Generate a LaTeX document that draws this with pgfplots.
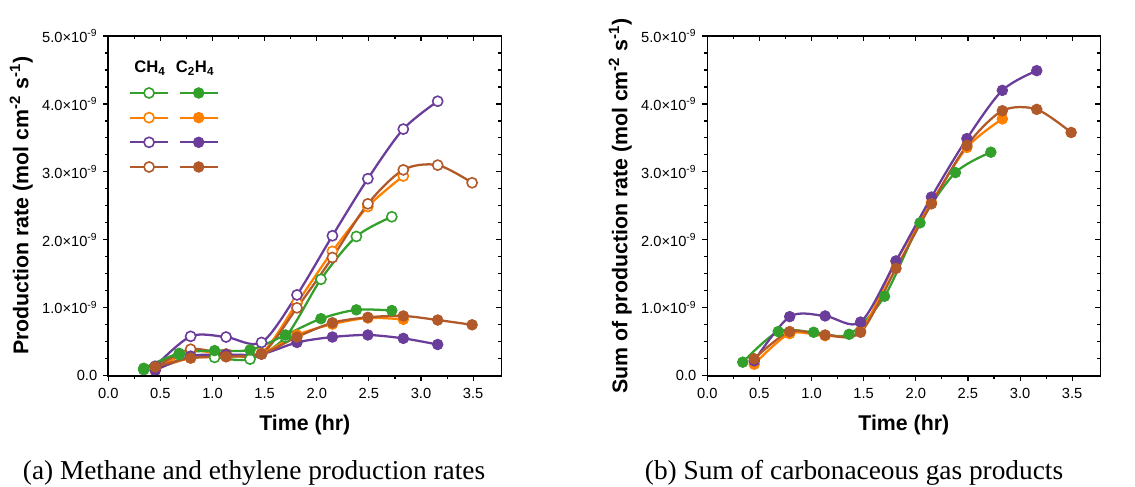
\documentclass[border=0pt]{standalone}
\usepackage{pgfplots}
\pgfplotsset{compat=1.18}
\usepackage{fontspec}
\setmainfont{Liberation Sans}
\newfontfamily\capfont{Liberation Serif}

\definecolor{cgreen}{HTML}{33A02C}
\definecolor{corange}{HTML}{FF7F00}
\definecolor{cpurple}{HTML}{6A3D9A}
\definecolor{cbrown}{HTML}{B15928}

\pgfplotsset{
  panel/.style={
    width=294.75pt, height=254.8pt, scale only axis,
    xmin=0, xmax=3.77, ymin=0, ymax=5,
    xtick={0,0.5,1,1.5,2,2.5,3,3.5},
    ytick={0,1,2,3,4,5},
    minor x tick num=1, minor y tick num=3,
    major tick length=3.75pt, minor tick length=2.25pt,
    tick style={black, line width=0.85pt},
    axis line style={line width=1.2pt},
  },
  base/.style={panel, tick align=outside, xtick pos=left, ytick pos=left,
    xticklabels={0.0,0.5,1.0,1.5,2.0,2.5,3.0,3.5},
    yticklabels={0.0,1.0×10\textsuperscript{-9},2.0×10\textsuperscript{-9},3.0×10\textsuperscript{-9},4.0×10\textsuperscript{-9},5.0×10\textsuperscript{-9}},
    ticklabel style={font=\fontsize{11}{13}\selectfont},
    xticklabel style={yshift=-2.3pt}, yticklabel style={xshift=-1pt},
    label style={font=\bfseries\fontsize{16}{19}\selectfont},
    xlabel={Time (hr)},
    xlabel style={at={(axis description cs:0.5,0)}, anchor=center, yshift=-36.75pt},
    ylabel style={at={(axis description cs:-0.2214,0.5)}, anchor=center},
  },
  mirror/.style={panel, tick align=inside, xtick pos=right, ytick pos=right,
    xticklabels={}, yticklabels={}},
  ch4/.style={color=#1, line width=1.7pt, smooth, mark=*, mark size=3.8pt,
    mark options={fill=white, line width=1.2pt}},
  c2h4/.style={color=#1, line width=1.7pt, smooth, mark=*, mark size=4.0pt,
    mark options={fill=#1, line width=0.6pt}},
}

\begin{document}
\begin{tikzpicture}
\useasboundingbox (-81.2pt,-82.7pt) rectangle (770pt,281.8pt);

% (a) methane and ethylene
\begin{axis}[base, at={(0,0)},
  ylabel={Production rate (mol cm\textsuperscript{-2} s\textsuperscript{-1})},
  legend columns=2,
  legend style={draw=none, fill=none, at={(axis description cs:0.0526,0.848)},
    anchor=north west, inner sep=0pt, outer sep=0pt, row sep=10.5pt, column sep=3pt,
    nodes={inner sep=0pt, outer sep=0pt}},
  legend image code/.code={\draw[mark repeat=2,mark phase=2,#1]
    plot coordinates {(0pt,0pt) (14.25pt,0pt) (28.5pt,0pt)};},
]
% CH4
\addplot[ch4=cgreen, forget plot] coordinates {(0.34,0.09)(0.68,0.31)(1.02,0.27)(1.36,0.245)(1.70,0.57)(2.04,1.42)(2.38,2.05)(2.72,2.34)};
\addplot[ch4=corange, forget plot] coordinates {(0.45,0.08)(0.79,0.36)(1.13,0.31)(1.47,0.33)(1.81,1.07)(2.15,1.83)(2.49,2.49)(2.83,2.94)};
\addplot[ch4=cpurple, forget plot] coordinates {(0.45,0.14)(0.79,0.58)(1.13,0.57)(1.47,0.49)(1.81,1.19)(2.15,2.06)(2.49,2.90)(2.83,3.63)(3.16,4.04)};
\addplot[ch4=cbrown, forget plot] coordinates {(0.45,0.12)(0.79,0.39)(1.13,0.32)(1.47,0.32)(1.81,1.00)(2.15,1.74)(2.49,2.53)(2.83,3.03)(3.16,3.10)(3.49,2.84)};
% C2H4
\addplot[c2h4=cgreen, forget plot] coordinates {(0.34,0.11)(0.68,0.33)(1.02,0.37)(1.36,0.38)(1.70,0.60)(2.04,0.84)(2.38,0.97)(2.72,0.96)};
\addplot[c2h4=corange, forget plot] coordinates {(0.45,0.10)(0.79,0.26)(1.13,0.28)(1.47,0.33)(1.81,0.60)(2.15,0.76)(2.49,0.85)(2.83,0.83)};
\addplot[c2h4=cpurple, forget plot] coordinates {(0.45,0.08)(0.79,0.29)(1.13,0.31)(1.47,0.32)(1.81,0.49)(2.15,0.57)(2.49,0.60)(2.83,0.55)(3.16,0.46)};
\addplot[c2h4=cbrown, forget plot] coordinates {(0.45,0.13)(0.79,0.26)(1.13,0.28)(1.47,0.32)(1.81,0.57)(2.15,0.78)(2.49,0.86)(2.83,0.88)(3.16,0.82)(3.49,0.75)};

\addlegendimage{ch4=cgreen}\addlegendentry{}
\addlegendimage{c2h4=cgreen}\addlegendentry{}
\addlegendimage{ch4=corange}\addlegendentry{}
\addlegendimage{c2h4=corange}\addlegendentry{}
\addlegendimage{ch4=cpurple}\addlegendentry{}
\addlegendimage{c2h4=cpurple}\addlegendentry{}
\addlegendimage{ch4=cbrown}\addlegendentry{}
\addlegendimage{c2h4=cbrown}\addlegendentry{}

\node[anchor=base, font=\bfseries\fontsize{12.5}{15}\selectfont] at (axis description cs:0.106,0.892) {CH\textsubscript{4}};
\node[anchor=base, font=\bfseries\fontsize{12.5}{15}\selectfont] at (axis description cs:0.2206,0.892) {C\textsubscript{2}H\textsubscript{4}};
\end{axis}
\begin{axis}[mirror, at={(0,0)}]
\end{axis}

% (b) sum
\begin{axis}[base, at={(449.25pt,0)},
  ylabel={Sum of production rate (mol cm\textsuperscript{-2} s\textsuperscript{-1})},
]
\addplot[c2h4=cgreen] coordinates {(0.34,0.20)(0.68,0.65)(1.02,0.64)(1.36,0.61)(1.70,1.17)(2.04,2.25)(2.38,2.99)(2.72,3.29)};
\addplot[c2h4=corange] coordinates {(0.45,0.17)(0.79,0.62)(1.13,0.59)(1.47,0.66)(1.81,1.68)(2.15,2.55)(2.49,3.36)(2.83,3.78)};
\addplot[c2h4=cpurple] coordinates {(0.45,0.22)(0.79,0.87)(1.13,0.88)(1.47,0.79)(1.81,1.69)(2.15,2.63)(2.49,3.49)(2.83,4.20)(3.16,4.49)};
\addplot[c2h4=cbrown] coordinates {(0.45,0.25)(0.79,0.65)(1.13,0.60)(1.47,0.64)(1.81,1.58)(2.15,2.53)(2.49,3.39)(2.83,3.90)(3.16,3.92)(3.49,3.58)};
\end{axis}
\begin{axis}[mirror, at={(449.25pt,0)}]
\end{axis}

\node[anchor=base, font=\capfont\fontsize{20.5}{24}\selectfont] at (109.3pt,-77.5pt) {(a) Methane and ethylene production rates};
\node[anchor=base, font=\capfont\fontsize{20.5}{24}\selectfont] at (559.3pt,-77.5pt) {(b) Sum of carbonaceous gas products};
\end{tikzpicture}
\end{document}
